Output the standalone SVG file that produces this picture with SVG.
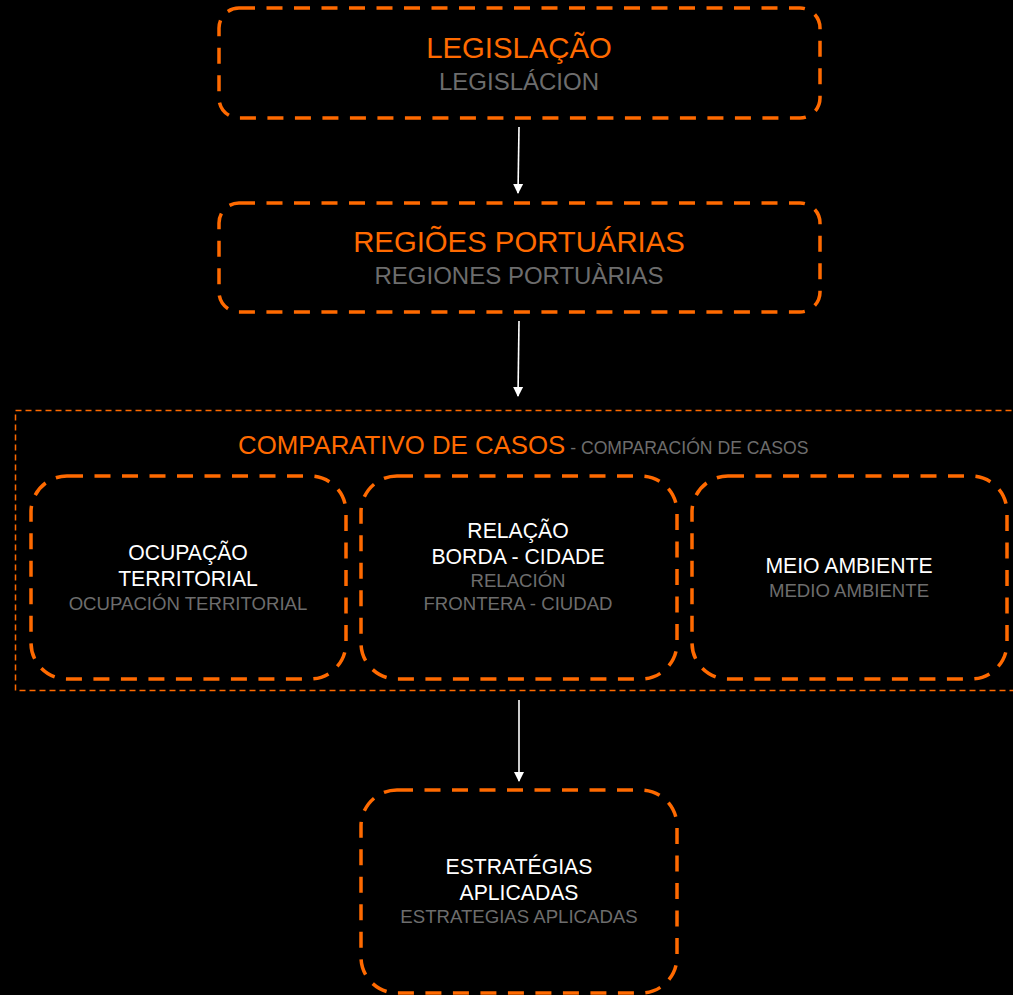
<svg xmlns="http://www.w3.org/2000/svg" width="1013" height="995" viewBox="0 0 1013 995">
<defs>
<style>
.box{fill:none;stroke:#ff6a00;stroke-width:3.5;stroke-dasharray:16 11.5}
.group{fill:none;stroke:#ff6a00;stroke-width:1.5;stroke-dasharray:6 4}
text{font-family:"Liberation Sans",Arial,sans-serif;text-anchor:middle}
.t1{fill:#ff6a00;font-size:29.3px}
.s1{fill:#6d6d6d;font-size:24px}
.t2{fill:#ffffff;font-size:21.2px}
.s2{fill:#6d6d6d;font-size:18.6px}
.conn{stroke:#ffffff;stroke-width:1.6;fill:none}
</style>
<marker id="ah" markerWidth="10" markerHeight="12" refX="9" refY="5" orient="auto" markerUnits="userSpaceOnUse" viewBox="0 0 10 10">
<path d="M0,0 L10,5 L0,10 z" fill="#ffffff"/>
</marker>
</defs>
<rect width="1013" height="995" fill="#000000"/>
<g id="group-comparativo">
<rect class="group" x="15.5" y="410.5" width="1010" height="280"/>
<text x="238" y="454" style="fill:#ff6a00;font-size:25.8px;text-anchor:start">COMPARATIVO DE CASOS<tspan style="fill:#6d6d6d;font-size:17.6px"> - COMPARACIÓN DE CASOS</tspan></text>
</g>
<g id="node-legislacao">
<rect class="box" x="219" y="8" width="601" height="110" rx="20"/>
<text class="t1" x="519" y="58">LEGISLAÇÃO</text>
<text class="s1" x="519" y="90">LEGISLÁCION</text>
</g>
<g id="node-regioes">
<rect class="box" x="219" y="203" width="601" height="109" rx="20"/>
<text class="t1" x="519" y="252">REGIÕES PORTUÁRIAS</text>
<text class="s1" x="519" y="284">REGIONES PORTUÀRIAS</text>
</g>
<g id="node-ocupacao">
<rect class="box" x="31" y="476" width="315" height="203" rx="36"/>
<text class="t2" x="188" y="560">OCUPAÇÃO</text>
<text class="t2" x="188" y="586">TERRITORIAL</text>
<text class="s2" x="188" y="610">OCUPACIÓN TERRITORIAL</text>
</g>
<g id="node-relacao">
<rect class="box" x="361" y="476" width="316" height="203" rx="36"/>
<text class="t2" x="518" y="538">RELAÇÃO</text>
<text class="t2" x="518" y="564">BORDA - CIDADE</text>
<text class="s2" x="518" y="587">RELACIÓN</text>
<text class="s2" x="518" y="610">FRONTERA - CIUDAD</text>
</g>
<g id="node-meio">
<rect class="box" x="692" y="476" width="315" height="203" rx="36"/>
<text class="t2" x="849" y="573">MEIO AMBIENTE</text>
<text class="s2" x="849" y="597">MEDIO AMBIENTE</text>
</g>
<g id="node-estrategias">
<rect class="box" x="361" y="790" width="316" height="203" rx="36"/>
<text class="t2" x="519" y="874">ESTRATÉGIAS</text>
<text class="t2" x="519" y="900">APLICADAS</text>
<text class="s2" x="519" y="923">ESTRATEGIAS APLICADAS</text>
</g>
<g id="connectors">
<line class="conn" x1="519" y1="127" x2="518" y2="193" marker-end="url(#ah)"/>
<line class="conn" x1="519" y1="321" x2="518" y2="396" marker-end="url(#ah)"/>
<line class="conn" x1="519" y1="700" x2="519" y2="781" marker-end="url(#ah)"/>
</g>
</svg>
